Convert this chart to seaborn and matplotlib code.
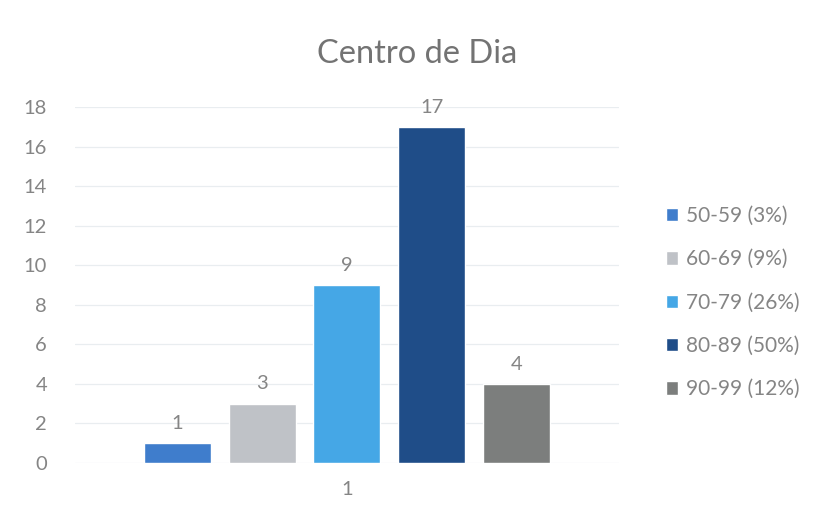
import pandas as pd
import matplotlib
matplotlib.use("Agg")
import matplotlib.pyplot as plt
import seaborn as sns

# data
faixas = ["50-59", "60-69", "70-79", "80-89", "90-99"]
utentes = [1, 3, 9, 17, 4]
percent = [3, 9, 26, 50, 12]
categoria = ["1"] * len(faixas)
cores = ["#3f7dcc", "#bfc2c7", "#45a7e6", "#1f4d88", "#7c7e7d"]

sns.set_theme(style="white")
plt.rcParams["font.family"] = ["Lato", "DejaVu Sans"]
TXT = "#858585"

labels = [f"{f} ({p}%)" for f, p in zip(faixas, percent)]
df = pd.DataFrame({"cat": categoria, "n": utentes, "faixa": labels})

fig = plt.figure(figsize=(8.23, 5.2), dpi=100)
ax = fig.add_axes([0.091, 0.11, 0.661, 0.684])

sns.barplot(data=df, x="cat", y="n", hue="faixa", palette=cores,
            saturation=1, width=0.78, gap=0.21, ax=ax, legend=True)

for c in ax.containers:
    ax.bar_label(c, padding=8, fontsize=14.5, color=TXT)

ax.set_ylim(0, 18)
ax.set_yticks(range(0, 19, 2))
ax.set_xlim(-0.5, 0.5)
ax.yaxis.grid(True, color="#e9edf0", linewidth=0.9)
ax.set_axisbelow(True)
for s in ax.spines.values():
    s.set_visible(False)
ax.tick_params(axis="both", length=0, labelsize=14.5, labelcolor=TXT)
ax.tick_params(axis="x", pad=13)
ax.tick_params(axis="y", pad=20)
ax.set_xlabel("")
ax.set_ylabel("")

fig.suptitle("Centro de Dia", x=0.507, y=0.925, fontsize=23.5, color="#737373")

leg = ax.legend(loc="center left", bbox_to_anchor=(0.809, 0.418),
                bbox_transform=fig.transFigure, frameon=False, fontsize=15,
                handlelength=0.6, handleheight=0.6, handletextpad=0.35,
                labelspacing=1.12, borderaxespad=0, borderpad=0)
for t in leg.get_texts():
    t.set_color(TXT)

plt.savefig("out.png", dpi=100)
plt.close()
